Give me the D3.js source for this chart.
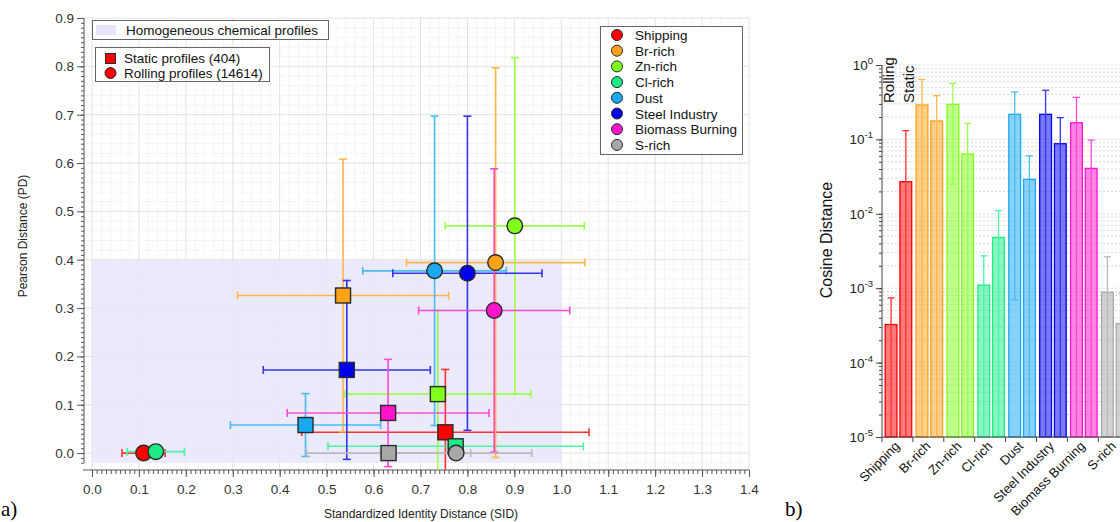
<!DOCTYPE html>
<html>
<head>
<meta charset="utf-8">
<script src="https://cdn.jsdelivr.net/npm/d3@7"></script>
<style>
  body { margin: 0; background: #fff; }
  svg { display: block; font-family: "Liberation Sans", Arial, sans-serif; }
</style>
</head>
<body>
<svg id="fig" width="1120" height="522"></svg>
<script>
// source categories and colours
var sources = ["Shipping", "Br-rich", "Zn-rich", "Cl-rich", "Dust", "Steel Industry", "Biomass Burning", "S-rich"];
var markerColors = ["#ff0000", "#ffa21a", "#80ff1a", "#1ceb86", "#1aa8ef", "#0000ee", "#ff14cc", "#a8a8a8"];
var lineColors = ["#ff3030", "#ffb648", "#9cff4a", "#48f5a8", "#48bcf2", "#3434e8", "#ff48d8", "#bababa"];

// panel a) static profiles (squares): SID, SID sd, PD, PD sd
var staticSID = [0.753, 0.535, 0.737, 0.775, 0.455, 0.543, 0.631, 0.632];
var staticSIDerr = [0.306, 0.225, 0.198, 0.272, 0.160, 0.178, 0.215, 0.175];
var staticPD = [0.043, 0.326, 0.122, 0.014, 0.058, 0.172, 0.083, 0.0];
var staticPDerr = [0.130, 0.282, 0.173, 0.0, 0.065, 0.185, 0.111, 0.0];

// panel a) rolling profiles (circles)
var rollingSID = [0.110, 0.860, 0.901, 0.136, 0.730, 0.800, 0.857, 0.776];
var rollingSIDerr = [0.046, 0.190, 0.148, 0.061, 0.153, 0.159, 0.161, 0.161];
var rollingPD = [0.0, 0.394, 0.470, 0.003, 0.377, 0.372, 0.295, 0.0];
var rollingPDerr = [0.0, 0.403, 0.348, 0.0, 0.320, 0.325, 0.293, 0.0];

// panel b) cosine distance, rolling / static, with sd
var cosRolling = [3.25e-4, 0.290, 0.296, 1.1e-3, 0.2175, 0.217, 0.1675, 8.8e-4];
var cosRollingErr = [4.15e-4, 0.350, 0.271, 1.62e-3, 0.2168, 0.240, 0.1995, 1.76e-3];
var cosStatic = [0.027, 0.177, 0.0636, 4.8e-3, 0.029, 0.0874, 0.0408, 3.35e-4];
var cosStaticErr = [0.104, 0.210, 0.1004, 6.2e-3, 0.031, 0.1086, 0.0572, 5.15e-4];

var xTicks = d3.range(0, 1.41, 0.1);
var yTicks = d3.range(0, 0.91, 0.1);

var svg = d3.select("#fig");

// ---------------- panel a ----------------
var x = d3.scaleLinear().domain([-0.017, 1.4]).range([84, 749]);
var y = d3.scaleLinear().domain([-0.035, 0.9]).range([470, 18]);

var pa = svg.append("g");

// background grid
var grid = pa.append("g");
d3.range(0, 1.401, 0.02).forEach(function(v) {
  var major = Math.abs(v * 10 - Math.round(v * 10)) < 1e-6;
  grid.append("line")
    .attr("x1", x(v)).attr("x2", x(v)).attr("y1", y(0.9)).attr("y2", y(-0.035))
    .attr("stroke", major ? "#e2e2e2" : "#f0f0f0").attr("stroke-width", 1)
    .attr("stroke-dasharray", major ? null : "2,1");
});
d3.range(-0.02, 0.901, 0.02).forEach(function(v) {
  var major = Math.abs(v * 10 - Math.round(v * 10)) < 1e-6;
  grid.append("line")
    .attr("x1", x(-0.017)).attr("x2", x(1.4)).attr("y1", y(v)).attr("y2", y(v))
    .attr("stroke", major ? "#e2e2e2" : "#f0f0f0").attr("stroke-width", 1)
    .attr("stroke-dasharray", major ? null : "2,1");
});

// homogeneous region
pa.append("rect")
  .attr("x", x(0)).attr("y", y(0.4))
  .attr("width", x(1.0) - x(0)).attr("height", y(-0.02) - y(0.4))
  .attr("fill", "#e6e6fa").attr("opacity", 0.85);

// axes
var yAxisMinor = d3.axisLeft(y).tickValues(d3.range(-0.02, 0.901, 0.01)).tickSize(3).tickFormat("");
var yAxis = d3.axisLeft(y).tickValues(yTicks).tickSize(7).tickFormat(d3.format(".1f"));
var ya = pa.append("g").attr("transform", "translate(84,0)");
ya.call(yAxisMinor);
ya.append("g").call(yAxis);
var xa = pa.append("g").attr("transform", "translate(0,470)");
xa.call(d3.axisBottom(x).tickValues(d3.range(0, 1.401, 0.01)).tickSize(4).tickFormat(""));
xa.append("g").call(d3.axisBottom(x).tickValues(xTicks).tickSize(7).tickFormat(d3.format(".1f")));
pa.selectAll(".domain").remove();
pa.selectAll(".tick line").attr("stroke", "#555");
pa.selectAll(".tick text").attr("fill", "#333").style("font-size", "13.5px");
xa.selectAll(".tick text").attr("dy", "1.05em");
pa.append("line").attr("x1", 84).attr("x2", 84).attr("y1", y(0.9)).attr("y2", y(-0.02)).attr("stroke", "#555");
pa.append("line").attr("x1", 83).attr("x2", 749).attr("y1", 470).attr("y2", 470).attr("stroke", "#555");

pa.append("text").attr("transform", "translate(27,236) rotate(-90)")
  .attr("text-anchor", "middle").style("font-size", "12px").attr("fill", "#222")
  .text("Pearson Distance (PD)");
pa.append("text").attr("x", 421).attr("y", 518)
  .attr("text-anchor", "middle").style("font-size", "12px").attr("fill", "#222")
  .text("Standardized Identity Distance (SID)");

// error bars
pa.append("clipPath").attr("id", "clipA").append("rect")
  .attr("x", 84).attr("y", 17).attr("width", 665).attr("height", 453);
var eb = pa.append("g").attr("clip-path", "url(#clipA)");
var cap = 4;
function errorBars(cx, cy, ex, ey, color) {
  if (ex > 0) {
    eb.append("line").attr("x1", x(cx - ex)).attr("x2", x(cx + ex)).attr("y1", y(cy)).attr("y2", y(cy))
      .attr("stroke", color).attr("stroke-width", 1.6);
    [cx - ex, cx + ex].forEach(function(v) {
      eb.append("line").attr("x1", x(v)).attr("x2", x(v)).attr("y1", y(cy) - cap).attr("y2", y(cy) + cap)
        .attr("stroke", color).attr("stroke-width", 1.6);
    });
  }
  if (ey > 0) {
    eb.append("line").attr("x1", x(cx)).attr("x2", x(cx)).attr("y1", y(cy - ey)).attr("y2", y(cy + ey))
      .attr("stroke", color).attr("stroke-width", 1.6);
    [cy - ey, cy + ey].forEach(function(v) {
      eb.append("line").attr("x1", x(cx) - cap).attr("x2", x(cx) + cap).attr("y1", y(v)).attr("y2", y(v))
        .attr("stroke", color).attr("stroke-width", 1.6);
    });
  }
}
sources.forEach(function(s, i) {
  errorBars(staticSID[i], staticPD[i], staticSIDerr[i], staticPDerr[i], lineColors[i]);
});
sources.forEach(function(s, i) {
  errorBars(rollingSID[i], rollingPD[i], rollingSIDerr[i], rollingPDerr[i], lineColors[i]);
});

// markers
var sq = 15;
pa.selectAll("rect.static").data(sources).enter().append("rect")
  .attr("class", "static")
  .attr("x", function(d, i) { return x(staticSID[i]) - sq / 2; })
  .attr("y", function(d, i) { return y(staticPD[i]) - sq / 2; })
  .attr("width", sq).attr("height", sq)
  .attr("fill", function(d, i) { return markerColors[i]; })
  .attr("stroke", "#2a2a2a").attr("stroke-width", 1.4);
pa.selectAll("circle.rolling").data(sources).enter().append("circle")
  .attr("class", "rolling")
  .attr("cx", function(d, i) { return x(rollingSID[i]); })
  .attr("cy", function(d, i) { return y(rollingPD[i]); })
  .attr("r", 7.8)
  .attr("fill", function(d, i) { return markerColors[i]; })
  .attr("stroke", "#2a2a2a").attr("stroke-width", 1.4);

// legend: homogeneous region
var lg1 = pa.append("g");
lg1.append("rect").attr("x", 92.5).attr("y", 20.5).attr("width", 236).attr("height", 19)
  .attr("fill", "#fff").attr("stroke", "#666");
lg1.append("rect").attr("x", 96).attr("y", 25).attr("width", 20).attr("height", 10).attr("fill", "#e6e6fa");
lg1.append("text").attr("x", 126).attr("y", 35).style("font-size", "13.5px").attr("fill", "#111")
  .text("Homogeneous chemical profiles");

// legend: marker types
var lg2 = pa.append("g");
lg2.append("rect").attr("x", 95.5).attr("y", 47.5).attr("width", 174).attr("height", 34)
  .attr("fill", "#fff").attr("stroke", "#666");
lg2.append("rect").attr("x", 105.5).attr("y", 53.5).attr("width", 10).attr("height", 10)
  .attr("fill", "#ff0000").attr("stroke", "#2a2a2a");
lg2.append("circle").attr("cx", 110.5).attr("cy", 73).attr("r", 5.5)
  .attr("fill", "#ff0000").attr("stroke", "#2a2a2a");
lg2.append("text").attr("x", 124).attr("y", 63).style("font-size", "13.5px").attr("fill", "#111")
  .text("Static profiles (404)");
lg2.append("text").attr("x", 124).attr("y", 78).style("font-size", "13.5px").attr("fill", "#111")
  .text("Rolling profiles (14614)");

// legend: sources
var lg3 = pa.append("g");
lg3.append("rect").attr("x", 600.5).attr("y", 26.5).attr("width", 142).attr("height", 128)
  .attr("fill", "#fff").attr("stroke", "#666");
sources.forEach(function(s, i) {
  var cy = 35 + i * 15.7;
  lg3.append("circle").attr("cx", 617).attr("cy", cy).attr("r", 5.5)
    .attr("fill", markerColors[i]).attr("stroke", "#2a2a2a");
  lg3.append("text").attr("x", 635).attr("y", cy + 5).style("font-size", "13.5px").attr("fill", "#111").text(s);
});

svg.append("text").attr("x", 1).attr("y", 516).style("font-family", "'Liberation Serif', serif")
  .style("font-size", "21px").text("a)");

// ---------------- panel b ----------------
var pb = svg.append("g");
var yb = d3.scaleLog().domain([1e-5, 1]).range([437, 65]);
var xb = d3.scaleBand().domain(sources).range([882, 882 + 8 * 30.9]).padding(0);
var xs = d3.scaleBand().domain(["Rolling", "Static"]).range([1, xb.bandwidth() + 1])
  .paddingInner(0.2).paddingOuter(0.15);

// dotted grid
var gridVals = [];
for (var n = -5; n < 0; n++) for (var k = 1; k < 10; k++) gridVals.push(k * Math.pow(10, n));
gridVals.push(1);
pb.selectAll("line.grid").data(gridVals).enter().append("line")
  .attr("class", "grid")
  .attr("x1", 883).attr("x2", 1120)
  .attr("y1", function(d) { return yb(d); }).attr("y2", function(d) { return yb(d); })
  .attr("stroke", "#dadada").attr("stroke-dasharray", "2,2");

// bars
var series = [
  { key: "Rolling", vals: cosRolling, errs: cosRollingErr },
  { key: "Static", vals: cosStatic, errs: cosStaticErr }
];
series.forEach(function(sr) {
  pb.selectAll(null).data(sources).enter().append("rect")
    .attr("x", function(d) { return xb(d) + xs(sr.key); })
    .attr("y", function(d, i) { return yb(sr.vals[i]); })
    .attr("width", xs.bandwidth())
    .attr("height", function(d, i) { return 437 - yb(sr.vals[i]); })
    .attr("fill", function(d, i) { return markerColors[i]; }).attr("fill-opacity", 0.52)
    .attr("stroke", function(d, i) { return markerColors[i]; }).attr("stroke-width", 1.3);
});
series.forEach(function(sr) {
  sources.forEach(function(d, i) {
    var cx = xb(d) + xs(sr.key) + xs.bandwidth() / 2;
    var hi = sr.vals[i] + sr.errs[i];
    var lo = sr.vals[i] - sr.errs[i];
    var col = lineColors[i];
    pb.append("line").attr("x1", cx).attr("x2", cx)
      .attr("y1", lo > 1e-5 ? yb(lo) : 437).attr("y2", yb(hi))
      .attr("stroke", col).attr("stroke-width", 1.3);
    pb.append("line").attr("x1", cx - 3.5).attr("x2", cx + 3.5).attr("y1", yb(hi)).attr("y2", yb(hi))
      .attr("stroke", col).attr("stroke-width", 1.3);
    if (lo > 1e-5) {
      pb.append("line").attr("x1", cx - 3.5).attr("x2", cx + 3.5).attr("y1", yb(lo)).attr("y2", yb(lo))
        .attr("stroke", col).attr("stroke-width", 1.3);
    }
  });
});

// y axis with powers of ten
var yba = pb.append("g").attr("transform", "translate(882,0)");
yba.call(d3.axisLeft(yb).tickValues(gridVals).tickSize(3).tickFormat(""));
var decades = [1e-5, 1e-4, 1e-3, 1e-2, 1e-1, 1];
yba.append("g").call(d3.axisLeft(yb).tickValues(decades).tickSize(6).tickFormat(""));
yba.selectAll(".domain").remove();
yba.selectAll(".tick line").attr("stroke", "#444");
pb.append("line").attr("x1", 882).attr("x2", 882).attr("y1", 65).attr("y2", 437).attr("stroke", "#444");
decades.forEach(function(v) {
  var t = pb.append("text").attr("x", 873).attr("y", yb(v) + 5).attr("text-anchor", "end")
    .style("font-size", "13.5px").attr("fill", "#222");
  t.append("tspan").text("10");
  t.append("tspan").attr("dy", -6).style("font-size", "9.5px").text(String(Math.round(Math.log10(v))));
});

pb.append("text").attr("transform", "translate(832,240) rotate(-90)")
  .attr("text-anchor", "middle").style("font-size", "16px").attr("fill", "#111")
  .text("Cosine Distance");

// x axis
pb.append("line").attr("x1", 882).attr("x2", 1120).attr("y1", 437).attr("y2", 437).attr("stroke", "#444");
sources.forEach(function(d) {
  pb.append("line").attr("x1", xb(d)).attr("x2", xb(d)).attr("y1", 437).attr("y2", 442).attr("stroke", "#444");
  var cx = xb(d) + xb.bandwidth() / 2 + 3;
  pb.append("text").attr("transform", "translate(" + cx + ",447) rotate(-45)")
    .attr("text-anchor", "end").style("font-size", "13px").attr("fill", "#111").text(d);
});

// series labels
series.forEach(function(sr, j) {
  var bx = xb(sources[0]) + xs(sr.key) + xs.bandwidth() / 2 + (j === 0 ? 3 : 8);
  pb.append("text").attr("transform", "translate(" + bx + ",103) rotate(-90)")
    .style("font-size", "15px").attr("fill", "#111").text(sr.key);
});

svg.append("text").attr("x", 785).attr("y", 516).style("font-family", "'Liberation Serif', serif")
  .style("font-size", "21px").text("b)");
</script>
</body>
</html>
